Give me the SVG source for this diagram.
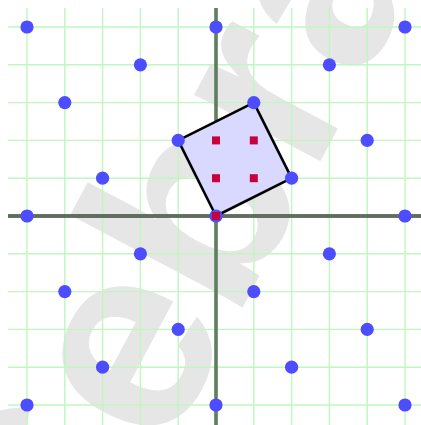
<svg xmlns="http://www.w3.org/2000/svg" width="421" height="425" viewBox="0 0 421 425">
<defs>
<style>
.grid line{stroke:#bff7bf;stroke-width:1.4}
.dot{fill:#4d4dff}
.red{fill:#c8003c}
.wm{font-family:"Liberation Sans",Arial,sans-serif;font-weight:bold;font-size:270px;fill:#e6e6e6}
</style>
</defs>
<rect width="421" height="425" fill="#ffffff"/>
<g id="watermark" transform="translate(137,357) rotate(-62)">
<text class="wm" x="-810" y="70">GeoGebra</text>
</g>
<g id="grid" class="grid">
<line x1="8" y1="27" x2="424" y2="27"/>
<line x1="8" y1="64.8" x2="424" y2="64.8"/>
<line x1="8" y1="102.6" x2="424" y2="102.6"/>
<line x1="8" y1="140.4" x2="424" y2="140.4"/>
<line x1="8" y1="178.2" x2="424" y2="178.2"/>
<line x1="8" y1="253.8" x2="424" y2="253.8"/>
<line x1="8" y1="291.6" x2="424" y2="291.6"/>
<line x1="8" y1="329.4" x2="424" y2="329.4"/>
<line x1="8" y1="367.2" x2="424" y2="367.2"/>
<line x1="8" y1="405" x2="424" y2="405"/>
<line x1="27" y1="8" x2="27" y2="425"/>
<line x1="64.8" y1="8" x2="64.8" y2="425"/>
<line x1="102.6" y1="8" x2="102.6" y2="425"/>
<line x1="140.4" y1="8" x2="140.4" y2="425"/>
<line x1="178.2" y1="8" x2="178.2" y2="425"/>
<line x1="253.8" y1="8" x2="253.8" y2="425"/>
<line x1="291.6" y1="8" x2="291.6" y2="425"/>
<line x1="329.4" y1="8" x2="329.4" y2="425"/>
<line x1="367.2" y1="8" x2="367.2" y2="425"/>
<line x1="405" y1="8" x2="405" y2="425"/>
</g>
<g id="axes">
<line x1="8" y1="216" x2="424" y2="216" stroke="#3a463a" stroke-width="3.4"/>
<line x1="8" y1="216" x2="424" y2="216" stroke="#7f9a7f" stroke-width="1.2"/>
<line x1="216" y1="8" x2="216" y2="425" stroke="#5e7e5e" stroke-width="3.6"/>
</g>
<g id="cell">
<polygon points="216,216 291.6,178.2 253.8,102.6 178.2,140.4" fill="#d9d9ff" stroke="#000" stroke-width="2.6" stroke-linejoin="round"/>
</g>
<g id="lattice">
<circle class="dot" cx="27" cy="27" r="6.6"/>
<circle class="dot" cx="216" cy="27" r="6.6"/>
<circle class="dot" cx="405" cy="27" r="6.6"/>
<circle class="dot" cx="140.4" cy="64.8" r="6.6"/>
<circle class="dot" cx="329.4" cy="64.8" r="6.6"/>
<circle class="dot" cx="64.8" cy="102.6" r="6.6"/>
<circle class="dot" cx="253.8" cy="102.6" r="6.6"/>
<circle class="dot" cx="178.2" cy="140.4" r="6.6"/>
<circle class="dot" cx="367.2" cy="140.4" r="6.6"/>
<circle class="dot" cx="102.6" cy="178.2" r="6.6"/>
<circle class="dot" cx="291.6" cy="178.2" r="6.6"/>
<circle class="dot" cx="27" cy="216" r="6.6"/>
<circle class="dot" cx="216" cy="216" r="6.6"/>
<circle class="dot" cx="405" cy="216" r="6.6"/>
<circle class="dot" cx="140.4" cy="253.8" r="6.6"/>
<circle class="dot" cx="329.4" cy="253.8" r="6.6"/>
<circle class="dot" cx="64.8" cy="291.6" r="6.6"/>
<circle class="dot" cx="253.8" cy="291.6" r="6.6"/>
<circle class="dot" cx="178.2" cy="329.4" r="6.6"/>
<circle class="dot" cx="367.2" cy="329.4" r="6.6"/>
<circle class="dot" cx="102.6" cy="367.2" r="6.6"/>
<circle class="dot" cx="291.6" cy="367.2" r="6.6"/>
<circle class="dot" cx="27" cy="405" r="6.6"/>
<circle class="dot" cx="216" cy="405" r="6.6"/>
<circle class="dot" cx="405" cy="405" r="6.6"/>
</g>
<g id="cosets">
<rect class="red" x="212" y="136.4" width="8" height="8"/>
<rect class="red" x="249.8" y="136.4" width="8" height="8"/>
<rect class="red" x="212" y="174.2" width="8" height="8"/>
<rect class="red" x="249.8" y="174.2" width="8" height="8"/>
<rect class="red" x="212" y="212" width="8" height="8"/>
</g>
</svg>
